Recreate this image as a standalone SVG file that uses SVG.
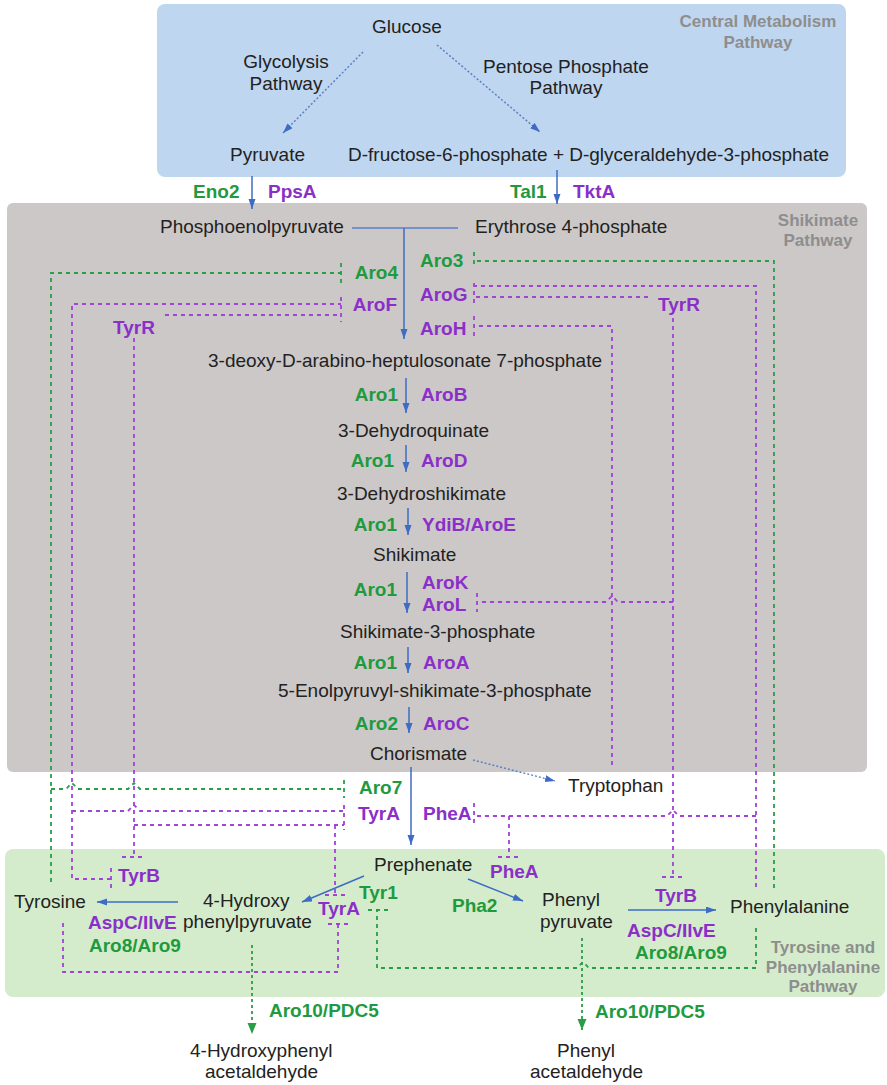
<svg xmlns="http://www.w3.org/2000/svg" width="887" height="1085" viewBox="0 0 887 1085">
<style>
text{font-family:"Liberation Sans",Arial,Helvetica,sans-serif;font-size:19px;fill:#222}
.g{font-weight:bold;fill:#1f9a3e}
.p{font-weight:bold;fill:#8b2fc9}
.e{text-anchor:end}
.lbl{font-weight:bold;font-size:17px;fill:#8e8e8e;text-anchor:middle}
.arr{stroke:#3d6cc4;stroke-width:1.5;fill:none;marker-end:url(#ab)}
.dot{stroke:#5d80c4;stroke-width:1.5;stroke-dasharray:2 2;fill:none;marker-end:url(#ab)}
.ln{stroke:#5d80c4;stroke-width:1.5;fill:none}
.gd{stroke:#2a9d47;stroke-width:1.8;stroke-dasharray:4 4;fill:none}
.pd{stroke:#a043d6;stroke-width:1.8;stroke-dasharray:4 4;fill:none}
.gdot{stroke:#2a9d47;stroke-width:1.8;stroke-dasharray:3 3;fill:none;marker-end:url(#ag)}
</style>
<defs>
<marker id="ab" markerUnits="userSpaceOnUse" markerWidth="11" markerHeight="8" refX="10" refY="3.5" orient="auto"><path d="M0,0 L10,3.5 L0,7 z" fill="#3d6cc4"/></marker>
<marker id="ag" markerUnits="userSpaceOnUse" markerWidth="12" markerHeight="10" refX="11" refY="4.5" orient="auto"><path d="M0,0 L11,4.5 L0,9 z" fill="#2a9d47"/></marker>
</defs>
<g id="regions">
<rect x="157" y="4" width="689" height="173" rx="8" fill="#bed6f0"/>
<rect x="7" y="203" width="860" height="569" rx="6" fill="#ccc8c7"/>
<rect x="5" y="849" width="880" height="148" rx="8" fill="#d4eccb"/>
<text class="lbl" x="758" y="27">Central Metabolism</text>
<text class="lbl" x="758" y="48">Pathway</text>
<text class="lbl" x="818" y="226">Shikimate</text>
<text class="lbl" x="818" y="246">Pathway</text>
<text class="lbl" x="823" y="953">Tyrosine and</text>
<text class="lbl" x="823" y="973">Phenylalanine</text>
<text class="lbl" x="823" y="992">Pathway</text>
</g>
<g id="connectors">
<path class="dot" d="M363,52 L283,133"/>
<path class="dot" d="M437,45 L540,132"/>
<path class="arr" d="M252,176 V209"/>
<path class="arr" d="M557,170 V204"/>
<path class="ln" d="M352,228 H458"/>
<path class="arr" d="M404,228 V339"/>
<path class="arr" d="M406,378 V413"/>
<path class="arr" d="M406,445 V472"/>
<path class="arr" d="M408,508 V535"/>
<path class="arr" d="M407,572 V613"/>
<path class="arr" d="M408,647 V673"/>
<path class="arr" d="M409,707 V733"/>
<path class="dot" d="M473,760 L555,781"/>
<path class="arr" d="M411,767 V845"/>
<path class="arr" d="M364,876 L302,902"/>
<path class="arr" d="M178,902 H97"/>
<path class="arr" d="M468,879 L523,901"/>
<path class="arr" d="M628,910 H716"/>
<path class="gdot" d="M252,945 V1034"/>
<path class="gdot" d="M582,938 V1030"/>
<!-- green feedback -->
<path class="gd" d="M51,882 V273 H341"/>
<path class="gd" d="M341,263 V283"/>
<path class="gd" d="M51,789 H66 L72,783 L78,789 H128 L134,783 L140,789 H344"/>
<path class="gd" d="M344,780 V798"/>
<path class="gd" d="M774,888 V261 H474"/>
<path class="gd" d="M474,252 V268"/>
<path class="gd" d="M756,928 V968 H589 L583,962 L577,968 H377 V910"/>
<path class="gd" d="M368,910 H388"/>
<!-- purple feedback -->
<path class="pd" d="M111,879 H72 V304 H341"/>
<path class="pd" d="M111,868 V888"/>
<path class="pd" d="M165,315 H341"/>
<path class="pd" d="M341,297 V322"/>
<path class="pd" d="M134,338 V857"/>
<path class="pd" d="M122,857 H145"/>
<path class="pd" d="M72,811 H128 L134,805 L140,811 H344"/>
<path class="pd" d="M134,825 H344"/>
<path class="pd" d="M344,805 V830"/>
<path class="pd" d="M335,825 V895"/>
<path class="pd" d="M325,895 H347"/>
<path class="pd" d="M63,923 V972 H338 V924"/>
<path class="pd" d="M328,924 H348"/>
<path class="pd" d="M756,887 V286 H474"/>
<path class="pd" d="M648,297 H474"/>
<path class="pd" d="M474,283 V303"/>
<path class="pd" d="M612,765 V326 H474"/>
<path class="pd" d="M474,316 V336"/>
<path class="pd" d="M673,318 V877"/>
<path class="pd" d="M662,877 H685"/>
<path class="pd" d="M673,602 H618 L612,596 L606,602 H477"/>
<path class="pd" d="M477,593 V612"/>
<path class="pd" d="M756,816 H679 L673,810 L667,816 H475"/>
<path class="pd" d="M474,803 V823"/>
<path class="pd" d="M509,816 V857"/>
<path class="pd" d="M498,857 H518"/>
</g>
<g id="n-glucose"><text x="372" y="33">Glucose</text></g>
<g id="n-glycolysis"><text x="286" y="68" text-anchor="middle">Glycolysis</text><text x="286" y="90" text-anchor="middle">Pathway</text></g>
<g id="n-ppp"><text x="566" y="73" text-anchor="middle">Pentose Phosphate</text><text x="566" y="94" text-anchor="middle">Pathway</text></g>
<g id="n-pyruvate"><text x="230" y="161">Pyruvate</text></g>
<g id="n-f6p-g3p"><text x="348" y="161">D-fructose-6-phosphate +  D-glyceraldehyde-3-phosphate</text></g>
<g id="n-pep"><text x="160" y="233">Phosphoenolpyruvate</text></g>
<g id="n-e4p"><text x="475" y="233">Erythrose 4-phosphate</text></g>
<g id="n-dahp"><text x="208" y="367">3-deoxy-D-arabino-heptulosonate 7-phosphate</text></g>
<g id="n-dhq"><text x="338" y="437">3-Dehydroquinate</text></g>
<g id="n-dhs"><text x="337" y="500">3-Dehydroshikimate</text></g>
<g id="n-shikimate"><text x="373" y="561">Shikimate</text></g>
<g id="n-s3p"><text x="340" y="638">Shikimate-3-phosphate</text></g>
<g id="n-epsp"><text x="278" y="697">5-Enolpyruvyl-shikimate-3-phosphate</text></g>
<g id="n-chorismate"><text x="370" y="760">Chorismate</text></g>
<g id="n-tryptophan"><text x="568" y="792">Tryptophan</text></g>
<g id="n-prephenate"><text x="374" y="871">Prephenate</text></g>
<g id="n-tyrosine"><text x="14" y="908">Tyrosine</text></g>
<g id="n-hpp"><text x="203" y="907">4-Hydroxy</text><text x="183" y="928">phenylpyruvate</text></g>
<g id="n-phenylpyruvate"><text x="542" y="906">Phenyl</text><text x="540" y="928">pyruvate</text></g>
<g id="n-phenylalanine"><text x="730" y="913">Phenylalanine</text></g>
<g id="n-hpaa"><text x="190" y="1057">4-Hydroxyphenyl</text><text x="205" y="1078">acetaldehyde</text></g>
<g id="n-paa"><text x="557" y="1057">Phenyl</text><text x="530" y="1078">acetaldehyde</text></g>
<g id="enzymes">
<text class="g" x="193" y="198">Eno2</text>
<text class="p" x="268" y="198">PpsA</text>
<text class="g" x="510" y="198">Tal1</text>
<text class="p" x="573" y="198">TktA</text>
<text class="g e" x="398" y="279">Aro4</text>
<text class="p e" x="397" y="311">AroF</text>
<text class="g" x="420" y="267">Aro3</text>
<text class="p" x="420" y="301">AroG</text>
<text class="p" x="420" y="335">AroH</text>
<text class="p" x="113" y="334">TyrR</text>
<text class="p" x="658" y="311">TyrR</text>
<text class="g e" x="398" y="401">Aro1</text>
<text class="p" x="421" y="401">AroB</text>
<text class="g e" x="394" y="467">Aro1</text>
<text class="p" x="421" y="467">AroD</text>
<text class="g e" x="397" y="531">Aro1</text>
<text class="p" x="422" y="531">YdiB/AroE</text>
<text class="g e" x="397" y="596">Aro1</text>
<text class="p" x="422" y="589">AroK</text>
<text class="p" x="422" y="611">AroL</text>
<text class="g e" x="397" y="669">Aro1</text>
<text class="p" x="423" y="669">AroA</text>
<text class="g e" x="398" y="730">Aro2</text>
<text class="p" x="423" y="730">AroC</text>
<text class="g" x="359" y="794">Aro7</text>
<text class="p" x="358" y="820">TyrA</text>
<text class="p" x="423" y="820">PheA</text>
<text class="p" x="490" y="878">PheA</text>
<text class="p" x="118" y="882">TyrB</text>
<text class="g" x="359" y="899">Tyr1</text>
<text class="p" x="318" y="915">TyrA</text>
<text class="p" x="88" y="929">AspC/IlvE</text>
<text class="g" x="89" y="952">Aro8/Aro9</text>
<text class="g" x="452" y="912">Pha2</text>
<text class="p" x="655" y="902">TyrB</text>
<text class="p" x="627" y="937">AspC/IlvE</text>
<text class="g" x="635" y="959">Aro8/Aro9</text>
<text class="g" x="269" y="1017">Aro10/PDC5</text>
<text class="g" x="595" y="1018">Aro10/PDC5</text>
</g>
</svg>
